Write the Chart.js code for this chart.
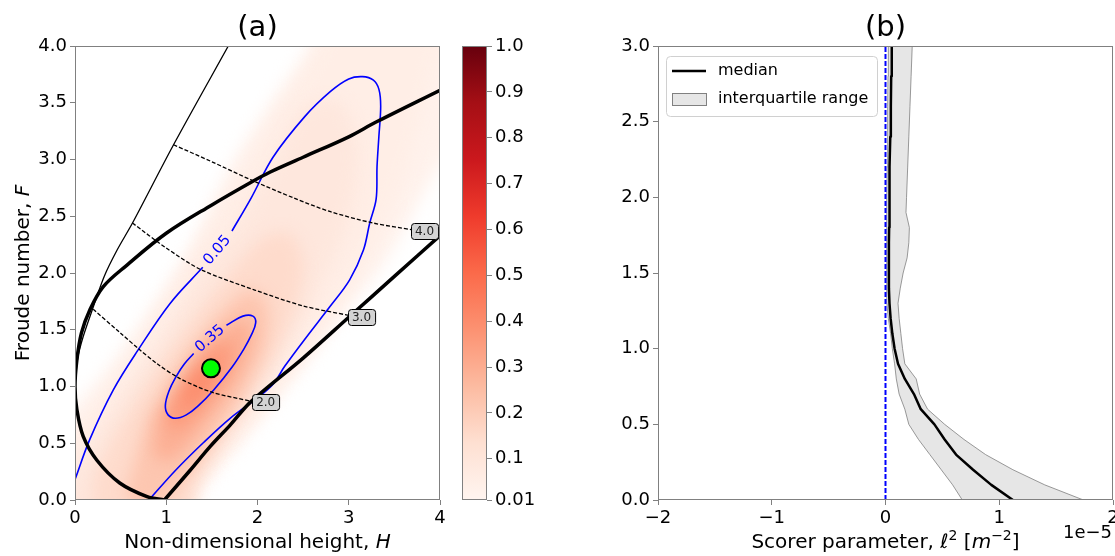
<!DOCTYPE html>
<html>
<head>
<meta charset="utf-8">
<script src="https://cdn.jsdelivr.net/npm/chart.js@4.4.1/dist/chart.umd.min.js"></script>
<style>
    html, body { margin: 0; padding: 0; background: #fff; }
    #wrap { position: relative; width: 1115px; height: 556px; overflow: hidden; }
    canvas { position: absolute; top: 0; }
</style>
</head>
<body>
<div id="wrap">
    <canvas id="regimeChart" width="455" height="556" style="left:0px"></canvas>
    <canvas id="colorbar" width="105" height="556" style="left:455px"></canvas>
    <canvas id="profileChart" width="555" height="556" style="left:560px"></canvas>
</div>
<script>
// ---------- Panel (a): Froude number vs non-dimensional height ----------
const hTicks = [0, 1, 2, 3, 4];
const fTicks = [0, 0.5, 1, 1.5, 2, 2.5, 3, 3.5, 4];

// thick regime boundary: upper branch, nose at F=1, lower branch down to the axis
const boundaryH = [4.0, 3.3, 3.0, 2.5, 2.14, 1.93, 1.5, 1.0, 0.57, 0.31, 0.16, 0.07, 0.02, 0.0,
    0.02, 0.09, 0.24, 0.49, 0.79, 0.98];
const boundaryF = [3.61, 3.33, 3.2, 3.02, 2.89, 2.8, 2.6, 2.35, 2.07, 1.88, 1.67, 1.47, 1.23, 1.0,
    0.8, 0.56, 0.35, 0.15, 0.03, 0.0];
// thick near-straight boundary rising from the axis
const rampH = [0.98, 1.26, 1.48, 1.7, 1.92, 2.5, 3.0, 3.5, 4.0];
const rampF = [0.0, 0.26, 0.47, 0.66, 0.86, 1.25, 1.61, 1.97, 2.33];

// thin curve
const thinH = [0.0, 0.03, 0.09, 0.2, 0.32, 0.46, 0.63, 1.08, 1.68];
const thinF = [1.0, 1.25, 1.44, 1.7, 1.97, 2.2, 2.44, 3.13, 4.0];

// dashed curves, labelled 2.0 / 3.0 / 4.0
const dash2H = [0.2, 0.5, 0.7, 0.9, 1.15, 1.5, 1.96];
const dash2F = [1.68, 1.47, 1.33, 1.2, 1.07, 0.95, 0.865];
const dash3H = [0.63, 1.0, 1.38, 1.97, 2.5, 3.01];
const dash3F = [2.44, 2.22, 2.03, 1.85, 1.71, 1.625];
const dash4H = [1.08, 1.5, 1.93, 2.4, 2.8, 3.27, 3.7];
const dash4F = [3.13, 2.98, 2.82, 2.66, 2.54, 2.44, 2.38];
const boxLabels = ["2.0", "3.0", "4.0"];
const boxH = [2.09, 3.14, 3.83];
const boxF = [0.865, 1.615, 2.37];

// blue contours (null = gap left for the inline label)
const contour05H = [0.0, 0.16, 0.42, 0.69, 1.04, 1.40, null, 1.72, 1.93, 2.17, 2.52, 2.8, 3.0, 3.15, 3.27, 3.33,
    3.35, 3.33, 3.31, 3.30, 3.23, 3.16, 3.01, 2.79, 2.55, 2.3, 2.17, 2.0, 1.7, 1.4, 1.1, 0.81];
const contour05F = [0.18, 0.53, 0.97, 1.32, 1.73, 2.05, null, 2.37, 2.66, 3.02, 3.38, 3.6, 3.71, 3.73, 3.7, 3.62,
    3.47, 3.2, 2.94, 2.65, 2.44, 2.2, 1.94, 1.7, 1.45, 1.18, 1.02, 0.9, 0.72, 0.5, 0.26, 0.0];
const contour35H = [1.66, 1.84, 1.95, 1.98, 1.93, 1.85, 1.72, 1.52, 1.35, 1.22, 1.10, 1.02, 0.99, 1.03, 1.11, 1.2, 1.30];
const contour35F = [1.54, 1.62, 1.62, 1.56, 1.45, 1.33, 1.17, 0.97, 0.83, 0.75, 0.72, 0.75, 0.83, 0.96, 1.09, 1.2, 1.29];
const contourLabels = ["0.05", "0.35"];
const contourLabelH = [1.56, 1.48];
const contourLabelF = [2.2, 1.42];
const contourLabelAngle = [-50, -41];

// observed point
const obsH = [1.49];
const obsF = [1.16];

// density shading, innermost level first
const densityLevels = [0.40, 0.35, 0.29, 0.22, 0.15, 0.09, 0.05, 0.025];
const densityH = [
    [1.15, 1.3, 1.5, 1.56, 1.42, 1.22],
    [1.0, 1.15, 1.45, 1.7, 1.72, 1.5, 1.25, 1.02],
    [0.85, 1.05, 1.4, 1.8, 1.95, 1.85, 1.55, 1.2, 0.9],
    [0.55, 0.75, 1.05, 1.45, 1.85, 2.1, 2.1, 1.9, 1.55, 1.15, 0.8],
    [0.2, 0.25, 1.15, 1.3, 1.7, 2.1, 2.4, 2.5, 2.35, 2.05, 1.65, 1.25, 0.85, 0.45],
    [-0.3, 0.0, 1.2, 1.3, 1.8, 2.3, 2.7, 3.0, 3.1, 2.9, 2.5, 2.2, 1.8, 1.3, 0.9, 0.5, 0.15],
    [-0.3, 1.25, 1.3, 1.9, 2.5, 3.0, 3.4, 3.7, 3.9, 4.0, 2.9, 2.7, 2.2, 1.75, 1.3, 0.9, 0.5, 0.15, -0.3],
    [-0.3, 1.32, 1.32, 2.0, 2.6, 3.0, 3.4, 3.78, 4.0, 4.3, 4.3, 2.6, 2.56, 2.1, 1.7, 1.25, 0.8, 0.4, 0.0, -0.3]
];
const densityF = [
    [0.82, 0.85, 1.05, 1.2, 1.18, 1.0],
    [0.65, 0.62, 0.88, 1.2, 1.38, 1.34, 1.06, 0.8],
    [0.4, 0.35, 0.65, 1.1, 1.45, 1.6, 1.45, 1.1, 0.7],
    [0.05, -0.1, 0.05, 0.45, 0.95, 1.4, 1.75, 1.85, 1.6, 1.2, 0.75],
    [0.2, -0.3, -0.3, 0.15, 0.65, 1.15, 1.65, 2.1, 2.35, 2.3, 1.95, 1.55, 1.1, 0.6],
    [0.0, -0.3, -0.3, 0.1, 0.7, 1.3, 1.9, 2.5, 3.1, 3.5, 3.45, 3.0, 2.45, 1.9, 1.35, 0.9, 0.45],
    [-0.3, -0.3, 0.05, 0.65, 1.25, 1.85, 2.45, 3.1, 3.7, 4.3, 4.3, 4.0, 3.4, 2.8, 2.2, 1.65, 1.15, 0.75, 0.35],
    [-0.3, -0.3, 0.0, 0.68, 1.28, 1.7, 2.1, 2.64, 2.95, 3.3, 4.3, 4.3, 4.0, 3.45, 2.94, 2.2, 1.65, 1.2, 0.82, 0.5]
];

// colorbar
const cbarTicks = [0.01, 0.1, 0.2, 0.3, 0.4, 0.5, 0.6, 0.7, 0.8, 0.9, 1.0];

// ---------- Panel (b): Scorer parameter profile (units of 1e-5 m^-2) ----------
const heights = [0, 0.1, 0.2, 0.3, 0.4, 0.5, 0.6, 0.7, 0.8, 0.9, 1.0, 1.1, 1.2, 1.3, 1.4, 1.5,
    1.6, 1.7, 1.8, 1.9, 2.0, 2.2, 2.4, 2.6, 2.8, 3.0];
const medianL2 = [1.12, 0.93, 0.77, 0.62, 0.52, 0.43, 0.31, 0.25, 0.17, 0.11, 0.08, 0.06, 0.045, 0.035, 0.03, 0.03,
    0.03, 0.03, 0.032, 0.033, 0.035, 0.038, 0.042, 0.047, 0.05, 0.055];
const q25L2 = [0.675, 0.59, 0.49, 0.39, 0.29, 0.205, 0.17, 0.12, 0.095, 0.08, 0.06, 0.045, 0.025, 0.012, 0.01, 0.01,
    0.01, 0.01, 0.011, 0.011, 0.012, 0.015, 0.018, 0.02, 0.022, 0.025];
const q75L2 = [1.74, 1.40, 1.12, 0.88, 0.69, 0.52, 0.37, 0.30, 0.27, 0.17, 0.15, 0.135, 0.12, 0.11, 0.13, 0.155,
    0.19, 0.205, 0.21, 0.18, 0.185, 0.195, 0.205, 0.215, 0.225, 0.235];
const zeroLineX = [0, 0];
const zeroLineZ = [0, 3];
const l2Ticks = [-2, -1, 0, 1, 2];
const zTicks = [0, 0.5, 1, 1.5, 2, 2.5, 3];

// ---------- helpers ----------
const FONT = '"DejaVu Sans"';
const SPINE = "#808080";

function pts(xs, ys) {
    return xs.map((x, i) => x === null ? { x: null, y: null } : { x: x, y: ys[i] });
}

// matplotlib "Reds"
const redsStops = [[255, 245, 240], [254, 224, 210], [252, 187, 161], [252, 146, 114], [251, 106, 74],
    [239, 59, 44], [203, 24, 29], [165, 15, 21], [103, 0, 13]];
function reds(v) {
    const t = Math.min(1, Math.max(0, (v - 0.01) / 0.99)) * 8;
    const i = Math.min(7, Math.floor(t));
    const f = t - i;
    const a = redsStops[i], b = redsStops[i + 1];
    return "rgb(" + a.map((c, k) => Math.round(c + (b[k] - c) * f)).join(",") + ")";
}

function drawRich(ctx, parts, x, y, size, angle) {
    ctx.save();
    ctx.translate(x, y);
    if (angle) ctx.rotate(angle);
    ctx.textAlign = "left";
    ctx.textBaseline = "alphabetic";
    ctx.fillStyle = "#000";
    const fontOf = p => (p.it ? "italic " : "") + (p.sup ? Math.round(size * 0.7) : size) + "px " + FONT;
    let total = 0;
    parts.forEach(p => { ctx.font = fontOf(p); total += ctx.measureText(p.t).width; });
    let cx = -total / 2;
    parts.forEach(p => {
        ctx.font = fontOf(p);
        ctx.fillText(p.t, cx, p.sup ? -size * 0.42 : 0);
        cx += ctx.measureText(p.t).width;
    });
    ctx.restore();
}

function frame(chart) {
    const { ctx, chartArea: a } = chart;
    ctx.save();
    ctx.strokeStyle = SPINE;
    ctx.lineWidth = 1;
    ctx.strokeRect(Math.round(a.left) + 0.5, Math.round(a.top) + 0.5,
        Math.round(a.right - a.left) - 1, Math.round(a.bottom - a.top) - 1);
    ctx.restore();
}

function panelTitle(chart, text) {
    const { ctx, chartArea: a } = chart;
    ctx.save();
    ctx.font = "29px " + FONT;
    ctx.fillStyle = "#000";
    ctx.textAlign = "center";
    ctx.textBaseline = "alphabetic";
    ctx.fillText(text, (a.left + a.right) / 2, 36);
    ctx.restore();
}

function tickAxis(ticks, fmt) {
    return {
        type: "linear",
        min: ticks[0],
        max: ticks[ticks.length - 1],
        afterBuildTicks: s => { s.ticks = ticks.map(v => ({ value: v })); },
        ticks: { font: { family: "DejaVu Sans", size: 18 }, color: "#000", padding: 3, maxRotation: 0, autoSkip: false, callback: fmt },
        grid: { drawOnChartArea: false, tickLength: 5, tickColor: SPINE, tickWidth: 1 },
        border: { display: false }
    };
}

// blur only the density fills (the filler draws them during beforeDraw)
const blurShading = {
    id: "blurShading",
    beforeRender(chart) { chart.ctx.save(); chart.ctx.filter = "blur(8px)"; chart.$blurred = true; },
    beforeDraw(chart) { if (chart.$blurred) { chart.ctx.restore(); chart.$blurred = false; } }
};

const regimeOverlay = {
    id: "regimeOverlay",
    afterDatasetsDraw(chart) {
        const { ctx, scales: { x, y } } = chart;
        ctx.save();
        // contour labels
        ctx.fillStyle = "#0000ff";
        ctx.font = "15px " + FONT;
        ctx.textAlign = "center";
        ctx.textBaseline = "middle";
        contourLabels.forEach((t, i) => {
            ctx.save();
            ctx.translate(x.getPixelForValue(contourLabelH[i]), y.getPixelForValue(contourLabelF[i]));
            ctx.rotate(contourLabelAngle[i] * Math.PI / 180);
            ctx.fillText(t, 0, 0);
            ctx.restore();
        });
        // boxed labels of the dashed curves
        ctx.font = "12px " + FONT;
        boxLabels.forEach((t, i) => {
            const px = x.getPixelForValue(boxH[i]);
            const py = y.getPixelForValue(boxF[i]);
            const w = ctx.measureText(t).width + 8;
            const h = 16;
            ctx.beginPath();
            ctx.roundRect(Math.round(px - w / 2) + 0.5, Math.round(py - h / 2) + 0.5, w, h, 3);
            ctx.fillStyle = "#d3d3d3";
            ctx.fill();
            ctx.strokeStyle = "#000";
            ctx.lineWidth = 1;
            ctx.stroke();
            ctx.fillStyle = "#222";
            ctx.fillText(t, px, py + 1);
        });
        ctx.restore();
    },
    afterDraw(chart) {
        frame(chart);
        const a = chart.chartArea;
        panelTitle(chart, "(a)");
        drawRich(chart.ctx, [{ t: "Non-dimensional height, " }, { t: "H", it: true }], (a.left + a.right) / 2, 548, 20);
        drawRich(chart.ctx, [{ t: "Froude number, " }, { t: "F", it: true }], 29, (a.top + a.bottom) / 2, 20, -Math.PI / 2);
    }
};

function lineSet(label, xs, ys, color, width, dash, tension) {
    return {
        label: label, data: pts(xs, ys), borderColor: color, borderWidth: width, borderDash: dash || [],
        pointRadius: 0, fill: false, spanGaps: false, tension: tension || 0, borderJoinStyle: "round"
    };
}

const regimeDatasets = [
    {
        label: "observed", data: pts(obsH, obsF), showLine: false, pointRadius: 9,
        pointBackgroundColor: "#00ff00", pointBorderColor: "#000", pointBorderWidth: 2, fill: false
    },
    lineSet("boundary", boundaryH, boundaryF, "#000", 3.5, null, 0.35),
    lineSet("ramp", rampH, rampF, "#000", 3.5, null, 0.3),
    lineSet("thin", thinH, thinF, "#000", 1.3, null, 0.3),
    lineSet("2.0", dash2H, dash2F, "#000", 1.3, [4, 2], 0.3),
    lineSet("3.0", dash3H, dash3F, "#000", 1.3, [4, 2], 0.3),
    lineSet("4.0", dash4H, dash4F, "#000", 1.3, [4, 2], 0.3),
    lineSet("0.05", contour05H, contour05F, "#0000ff", 1.6, null, 0.35),
    lineSet("0.35", contour35H, contour35F, "#0000ff", 1.6, null, 0.4)
];
densityLevels.forEach((lev, i) => {
    regimeDatasets.push({
        label: "density " + lev, data: pts(densityH[i], densityF[i]),
        backgroundColor: reds(lev), borderColor: "rgba(0,0,0,0)", borderWidth: 0,
        pointRadius: 0, fill: "shape", tension: 0.3
    });
});

new Chart(document.getElementById("regimeChart"), {
    type: "line",
    data: { datasets: regimeDatasets },
    options: {
        responsive: false,
        animation: false,
        events: [],
        layout: { padding: { top: 46, right: 15, left: 0, bottom: 0 } },
        scales: {
            x: Object.assign(tickAxis(hTicks, v => String(v)), {
                afterFit(s) { s.height = 56; s.paddingLeft = 0; s.paddingRight = 0; }
            }),
            y: Object.assign(tickAxis(fTicks, v => v.toFixed(1)), {
                afterFit(s) { s.width = 75; s.paddingTop = 0; s.paddingBottom = 0; }
            })
        },
        plugins: {
            legend: { display: false },
            tooltip: { enabled: false },
            filler: { drawTime: "beforeDraw", propagate: false }
        }
    },
    plugins: [blurShading, regimeOverlay]
});

// ---------- colorbar ----------
new Chart(document.getElementById("colorbar"), {
    type: "bar",
    data: {
        labels: [""],
        datasets: [{
            data: [[cbarTicks[0], cbarTicks[cbarTicks.length - 1]]],
            barPercentage: 1,
            categoryPercentage: 1,
            borderWidth: 0,
            backgroundColor(c) {
                const a = c.chart.chartArea;
                if (!a) return reds(0.5);
                const g = c.chart.ctx.createLinearGradient(0, a.bottom, 0, a.top);
                redsStops.forEach((s, i) => g.addColorStop(i / 8, "rgb(" + s.join(",") + ")"));
                return g;
            }
        }]
    },
    options: {
        responsive: false,
        animation: false,
        events: [],
        layout: { padding: { top: 46, left: 7, right: 0, bottom: 56 } },
        scales: {
            x: { display: false },
            y: Object.assign(tickAxis(cbarTicks, v => v === 0.01 ? "0.01" : v.toFixed(1)), {
                position: "right",
                afterFit(s) { s.width = 73; s.paddingTop = 0; s.paddingBottom = 0; }
            })
        },
        plugins: { legend: { display: false }, tooltip: { enabled: false } }
    },
    plugins: [{ id: "cbarFrame", afterDraw: frame }]
});

// ---------- panel (b) ----------
const profileOverlay = {
    id: "profileOverlay",
    afterDraw(chart) {
        const { ctx, chartArea: a } = chart;
        frame(chart);
        panelTitle(chart, "(b)");
        // legend
        const med = chart.data.datasets[1];
        const iqr = chart.data.datasets[2];
        const x0 = a.left + 8, y0 = a.top + 10, w = 211, h = 60;
        ctx.save();
        ctx.beginPath();
        ctx.roundRect(x0 + 0.5, y0 + 0.5, w, h, 4);
        ctx.fillStyle = "rgba(255,255,255,0.8)";
        ctx.fill();
        ctx.strokeStyle = "#d0d0d0";
        ctx.lineWidth = 1;
        ctx.stroke();
        ctx.strokeStyle = med.borderColor;
        ctx.lineWidth = med.borderWidth;
        ctx.beginPath();
        ctx.moveTo(x0 + 6, y0 + 15);
        ctx.lineTo(x0 + 40, y0 + 15);
        ctx.stroke();
        ctx.fillStyle = iqr.backgroundColor;
        ctx.fillRect(x0 + 6.5, y0 + 37.5, 34, 12);
        ctx.strokeStyle = iqr.borderColor;
        ctx.lineWidth = 1;
        ctx.strokeRect(x0 + 6.5, y0 + 37.5, 34, 12);
        ctx.fillStyle = "#000";
        ctx.font = "16px " + FONT;
        ctx.textAlign = "left";
        ctx.textBaseline = "middle";
        ctx.fillText(med.label, x0 + 52, y0 + 15);
        ctx.fillText(iqr.label, x0 + 52, y0 + 43);
        // offset text
        ctx.font = "18px " + FONT;
        ctx.textAlign = "right";
        ctx.textBaseline = "alphabetic";
        ctx.fillText("1e\u22125", a.right - 1, 538);
        ctx.restore();
        drawRich(ctx, [{ t: "Scorer parameter, " }, { t: "\u2113", it: true }, { t: "2", sup: true },
            { t: " [" }, { t: "m", it: true }, { t: "\u22122", sup: true }, { t: "]" }], (a.left + a.right) / 2, 548, 20);
        drawRich(ctx, [{ t: "Height above ground, " }, { t: "z", it: true }, { t: " [" }, { t: "km", it: true }, { t: "]" }],
            609, (a.top + a.bottom) / 2, 20, -Math.PI / 2);
    }
};

new Chart(document.getElementById("profileChart"), {
    type: "line",
    data: {
        datasets: [
            lineSet("zero", zeroLineX, zeroLineZ, "#0000ff", 2, [5, 2]),
            lineSet("median", medianL2, heights, "#000", 2.5),
            {
                label: "interquartile range",
                data: pts(q25L2.concat(q75L2.slice().reverse()), heights.concat(heights.slice().reverse())),
                backgroundColor: "#e6e6e6", borderColor: "#808080", borderWidth: 0.8,
                pointRadius: 0, fill: "shape", tension: 0
            }
        ]
    },
    options: {
        responsive: false,
        animation: false,
        events: [],
        layout: { padding: { top: 46, right: 2, left: 0, bottom: 0 } },
        scales: {
            x: Object.assign(tickAxis(l2Ticks, v => v < 0 ? "\u2212" + Math.abs(v) : String(v)), {
                afterFit(s) { s.height = 56; s.paddingLeft = 0; s.paddingRight = 0; }
            }),
            y: Object.assign(tickAxis(zTicks, v => v.toFixed(1)), {
                afterFit(s) { s.width = 98; s.paddingTop = 0; s.paddingBottom = 0; }
            })
        },
        plugins: { legend: { display: false }, tooltip: { enabled: false } }
    },
    plugins: [profileOverlay]
});
</script>
</body>
</html>
